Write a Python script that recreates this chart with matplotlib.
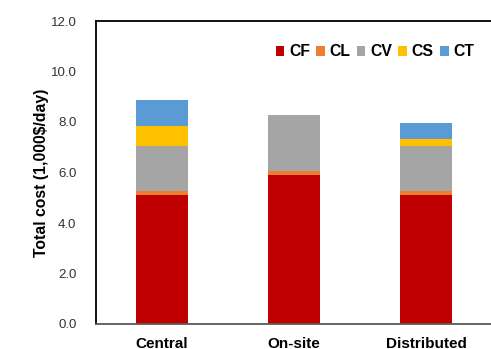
import matplotlib
matplotlib.use("Agg")
import matplotlib.pyplot as plt
import numpy as np

categories = ["Central", "On-site", "Distributed"]
series_names = ["CF", "CL", "CV", "CS", "CT"]
CF = [5.12, 5.91, 5.12]
CL = [0.13, 0.16, 0.13]
CV = [1.79, 2.21, 1.79]
CS = [0.79, 0.0, 0.27]
CT = [1.04, 0.0, 0.65]
colors = ["#C00000", "#ED7D31", "#A5A5A5", "#FFC000", "#5B9BD5"]
yticks = [0.0, 2.0, 4.0, 6.0, 8.0, 10.0, 12.0]

plt.rcParams['font.family'] = ['Liberation Sans', 'DejaVu Sans']

fig = plt.figure(figsize=(4.91, 3.49), dpi=100)
ax = fig.add_axes([96/491, 25/349, 396/491, 303/349])

x = np.arange(len(categories))
bottom = np.zeros(len(categories))
for name, vals, c in zip(series_names, [CF, CL, CV, CS, CT], colors):
    vals = np.array(vals)
    ax.bar(x, vals, 0.4, bottom=bottom, color=c, label=name, edgecolor='none')
    bottom += vals

ax.set_xlim(-0.5, 2.5)
ax.set_ylim(0, 12)
ax.set_yticks(yticks)
ax.set_yticklabels([f"{v:.1f}" for v in yticks], fontsize=9.5, color='#333333')
ax.set_xticks(x)
ax.set_xticklabels(categories, fontsize=11, fontweight='bold')
ax.tick_params(axis='both', length=0)
ax.tick_params(axis='y', pad=14)
ax.tick_params(axis='x', pad=9)
ax.set_ylabel("Total cost (1,000$/day)", fontsize=11.3, fontweight='bold', labelpad=1.5)

ax.spines['right'].set_visible(False)
ax.spines['left'].set_color('black')
ax.spines['left'].set_linewidth(1.3)
ax.spines['top'].set_color('black')
ax.spines['top'].set_linewidth(1.3)
ax.spines['bottom'].set_color('#595959')
ax.spines['bottom'].set_linewidth(1.3)

leg = ax.legend(ncol=5, loc='center right', bbox_to_anchor=(0.955, 0.898), frameon=False,
                prop={'weight': 'bold', 'size': 11.3}, handlelength=0.55, handleheight=0.55,
                handletextpad=0.3, columnspacing=0.4, borderaxespad=0, borderpad=0)

fig.savefig("out.png", dpi=100)
